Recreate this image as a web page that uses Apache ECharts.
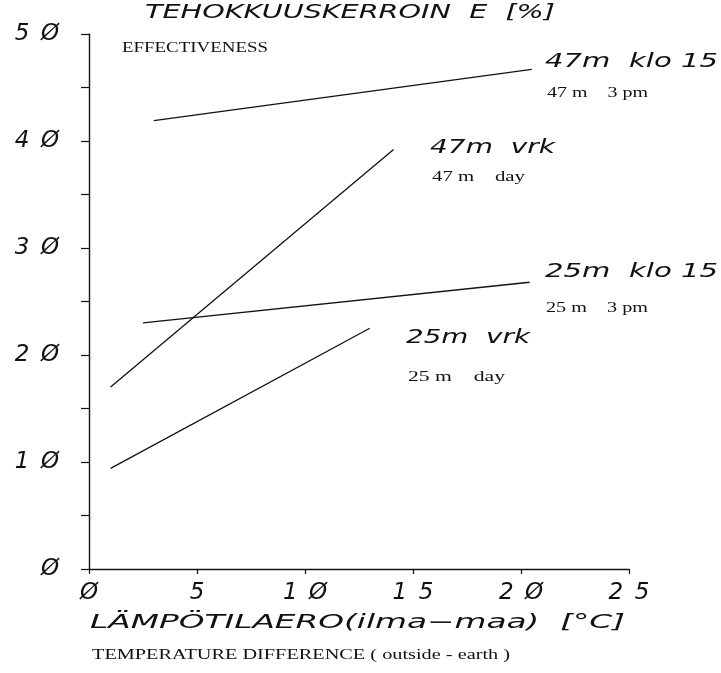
<!DOCTYPE html>
<html>
<head>
<meta charset="utf-8">
<script src="https://cdn.jsdelivr.net/npm/echarts@6/dist/echarts.min.js"></script>
<style>
html, body { margin: 0; background: #fff; }
#chartDom { width: 721px; height: 673px; }
</style>
</head>
<body>
<div id="chartDom"></div>
<script>
// tick values
const xTicks = [0, 5, 10, 15, 20, 25];
const yTicks = [0, 10, 20, 30, 40, 50];

// lines (x = temp difference, y = effectiveness %)
const x47klo = [3.0, 20.5];
const y47klo = [41.9, 46.7];
const x47vrk = [1.0, 14.1];
const y47vrk = [17.0, 39.2];
const x25klo = [2.5, 20.4];
const y25klo = [23.0, 26.8];
const x25vrk = [1.0, 13.0];
const y25vrk = [9.4, 22.5];

const lineNames = ['47m  klo 15', '47m  vrk', '25m  klo 15', '25m  vrk'];
const lineNotes = ['47 m    3 pm', '47 m    day', '25 m    3 pm', '25 m    day'];

const PLOT = 'italic 19px "DejaVu Sans"';
const SERIF = '15px "Liberation Serif"';
const INK = '#111';

// stretch a text to a given width, plotter lettering is wide
const ctx = document.createElement('canvas').getContext('2d');
function txt(text, x, y, w, font) {
  ctx.font = font;
  const sx = w / ctx.measureText(text).width;
  return {
    type: 'text', x: x, y: y, scaleX: sx, silent: true,
    style: { text: text, font: font, fill: INK, align: 'left', verticalAlign: 'middle',
             textAlign: 'left', textVerticalAlign: 'middle' }
  };
}

function tickText(v) {
  return String(v).split('').join('\u2002').replace(/0/g, '\u00d8');
}

function pairs(xs, ys) { return xs.map((x, i) => [x, ys[i]]); }

const chart = echarts.init(document.getElementById('chartDom'), null, { renderer: 'canvas' });

chart.setOption({
  backgroundColor: '#fff',
  animation: false,
  grid: { left: 89, top: 34, right: 92, bottom: 104 },
  xAxis: {
    type: 'value', min: 0, max: 25, interval: 5,
    axisLine: { lineStyle: { color: INK, width: 1.4 } },
    axisTick: { length: 5, lineStyle: { color: INK, width: 1.2 } },
    splitLine: { show: false },
    axisLabel: {
      margin: 13, color: INK, fontFamily: 'DejaVu Sans', fontStyle: 'italic', fontSize: 23,
      formatter: v => xTicks.includes(v) ? tickText(v) : ''
    }
  },
  yAxis: {
    type: 'value', min: 0, max: 50, interval: 5,
    axisLine: { show: true, lineStyle: { color: INK, width: 1.4 } },
    axisTick: { show: true, length: 8, lineStyle: { color: INK, width: 1.2 } },
    splitLine: { show: false },
    axisLabel: {
      margin: 30, color: INK, fontFamily: 'DejaVu Sans', fontStyle: 'italic', fontSize: 23,
      formatter: v => yTicks.includes(v) ? tickText(v) : ''
    }
  },
  series: [
    { name: lineNames[0], type: 'line', data: pairs(x47klo, y47klo) },
    { name: lineNames[1], type: 'line', data: pairs(x47vrk, y47vrk) },
    { name: lineNames[2], type: 'line', data: pairs(x25klo, y25klo) },
    { name: lineNames[3], type: 'line', data: pairs(x25vrk, y25vrk) }
  ].map(s => Object.assign(s, {
    symbol: 'none', silent: true,
    lineStyle: { color: INK, width: 1.3 }
  })),
  graphic: [
    txt('TEHOKKUUSKERROIN  E  [%]', 145, 13, 410, PLOT),
    txt('EFFECTIVENESS', 122, 48, 146, SERIF),
    txt(lineNames[0], 545, 62, 173, PLOT),
    txt(lineNotes[0], 547, 93, 101, SERIF),
    txt(lineNames[1], 430, 148, 125, PLOT),
    txt(lineNotes[1], 432, 177, 93, SERIF),
    txt(lineNames[2], 545, 272, 173, PLOT),
    txt(lineNotes[2], 546, 308, 102, SERIF),
    txt(lineNames[3], 406, 338, 124, PLOT),
    txt(lineNotes[3], 408, 377, 97, SERIF),
    txt('L\u00c4MP\u00d6TILAERO(ilma\u2212maa)  [\u00b0C]', 90, 623, 535, PLOT),
    txt('TEMPERATURE DIFFERENCE ( outside - earth )', 92, 655, 418, SERIF)
  ]
});
</script>
</body>
</html>
